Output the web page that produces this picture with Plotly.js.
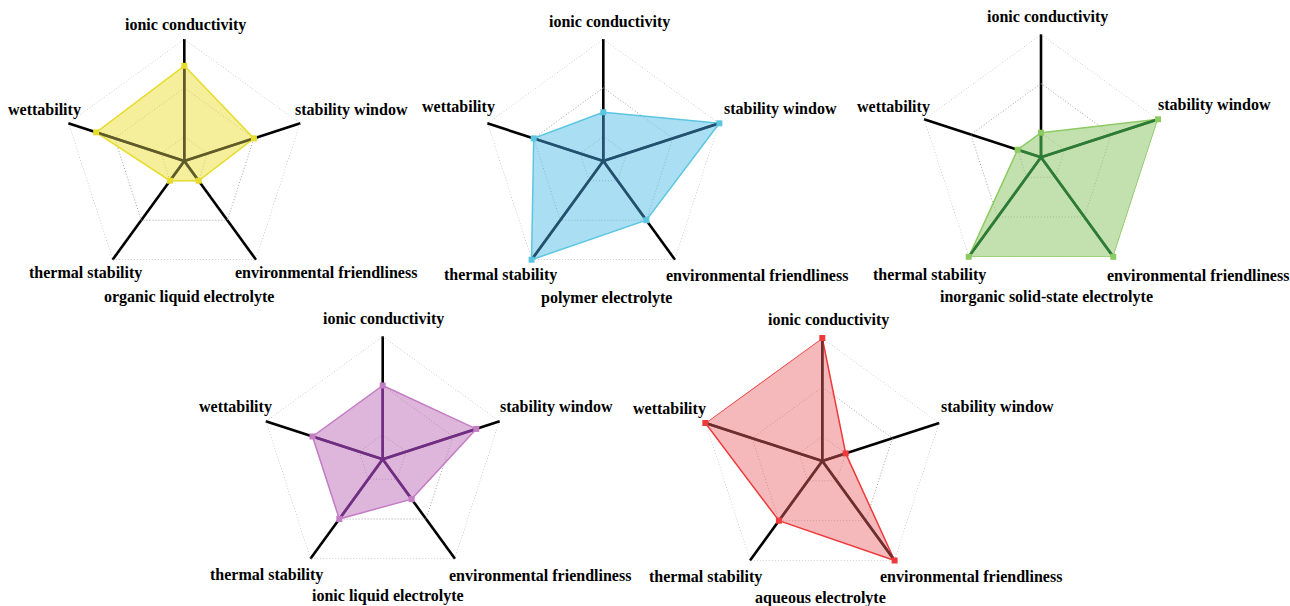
<!DOCTYPE html>
<html>
<head>
<meta charset="utf-8">
<script src="https://cdn.plot.ly/plotly-3.0.1.min.js"></script>
<style>
html,body{margin:0;padding:0;background:#fff;}
#chart{width:1290px;height:606px;}
</style>
</head>
<body>
<div id="chart"></div>
<script>
// ---- data ----
var categories = ['ionic conductivity', 'stability window', 'environmental friendliness', 'thermal stability', 'wettability'];
var chartTitles = ['organic liquid electrolyte', 'polymer electrolyte', 'inorganic solid-state electrolyte', 'ionic liquid electrolyte', 'aqueous electrolyte'];
var organicLiquid = [3.9, 3.0, 1.0, 1.0, 3.8];
var polymer = [2.0, 5.0, 3.0, 5.0, 3.0];
var inorganicSolid = [1.0, 5.0, 5.0, 5.0, 1.0];
var ionicLiquid = [3.0, 4.0, 2.0, 3.0, 3.0];
var aqueous = [5.0, 1.0, 5.0, 3.0, 5.0];
var gridValues = [1, 3, 5];
var radialMax = 5;

// ---- styles / layout (positions in pixels) ----
var W = 1290, H = 606;
var series = [organicLiquid, polymer, inorganicSolid, ionicLiquid, aqueous];
var styles = [
  {line: '#e6dc2c', fill: 'rgba(238,227,88,0.6)', spoke: '#5f5a2a'},
  {line: '#5cc6e2', fill: 'rgba(113,200,233,0.6)', spoke: '#22506e'},
  {line: '#8ccb62', fill: 'rgba(155,205,122,0.6)', spoke: '#2b7c34'},
  {line: '#c47cc4', fill: 'rgba(200,133,197,0.6)', spoke: '#712c84'},
  {line: '#f03a3a', fill: 'rgba(238,138,143,0.6)', spoke: '#6e2e2e'}
];
var centers = [
  {cx: 184.3, cy: 161, R: 122},
  {cx: 603.3, cy: 161, R: 122},
  {cx: 1041, cy: 157.3, R: 123},
  {cx: 382.7, cy: 459.3, R: 123},
  {cx: 822.3, cy: 461, R: 123}
];
// label centres: [ionic, stability, environmental, thermal, wettability, title]
var labelPos = [
  [[185.8,25],[351,110],[326,272.7],[85.5,272.7],[44.5,110],[189,296.7]],
  [[609.7,21.7],[780,109.3],[757,275],[500,275],[458,107.3],[606,297.7]],
  [[1047.5,17.3],[1214.5,105],[1197.7,275],[930,275],[893,106.7],[1046.3,296.7]],
  [[383,319],[556.3,406.7],[539.5,575.3],[266.3,575.3],[235.2,407.3],[387.8,596]],
  [[828.3,320],[997,406.7],[970.5,576.7],[705,576.7],[669.7,409.3],[820.3,597.7]]
];

var traces = [];
var layout = {
  width: W, height: H,
  margin: {l: 0, r: 0, t: 0, b: 0},
  paper_bgcolor: '#ffffff',
  plot_bgcolor: '#ffffff',
  showlegend: false,
  annotations: []
};

series.forEach(function (vals, i) {
  var sub = i === 0 ? 'polar' : 'polar' + (i + 1);
  var st = styles[i];
  var c = centers[i];
  layout[sub] = {
    domain: {
      x: [(c.cx - c.R) / W, (c.cx + c.R) / W],
      y: [(H - c.cy - c.R) / H, (H - c.cy + c.R) / H]
    },
    bgcolor: 'rgba(0,0,0,0)',
    gridshape: 'linear',
    radialaxis: {
      range: [0, radialMax],
      showgrid: false,
      showticklabels: false,
      ticks: '',
      showline: false
    },
    angularaxis: {
      type: 'category',
      categoryarray: categories,
      direction: 'clockwise',
      rotation: 90,
      showticklabels: false,
      ticks: '',
      showline: false,
      gridcolor: '#000000',
      gridwidth: 2.6
    }
  };
  // dotted pentagon grid rings at the grid values
  gridValues.forEach(function (g) {
    var gr = categories.map(function () { return g; });
    traces.push({
      type: 'scatterpolar', subplot: sub, mode: 'lines',
      r: gr.concat([g]), theta: categories.concat([categories[0]]),
      line: {color: '#a2a2a2', width: 1, dash: '1px,2px'}, hoverinfo: 'skip'
    });
  });
  var r = vals.concat([vals[0]]);
  var th = categories.concat([categories[0]]);
  traces.push({
    type: 'scatterpolar', subplot: sub, mode: 'lines',
    r: r, theta: th, fill: 'toself', fillcolor: st.fill,
    line: {color: st.line, width: 1.5}, hoverinfo: 'skip'
  });
  var sr = [], sth = [];
  vals.forEach(function (v, k) {
    sr.push(0, v, null);
    sth.push(categories[k], categories[k], categories[k]);
  });
  traces.push({
    type: 'scatterpolar', subplot: sub, mode: 'lines',
    r: sr, theta: sth, connectgaps: false,
    line: {color: st.spoke, width: 2.6}, hoverinfo: 'skip'
  });
  traces.push({
    type: 'scatterpolar', subplot: sub, mode: 'markers',
    r: vals, theta: categories,
    marker: {symbol: 'square', size: 6, color: st.line}, hoverinfo: 'skip'
  });
  var texts = categories.concat([chartTitles[i]]);
  texts.forEach(function (t, k) {
    var p = labelPos[i][k];
    layout.annotations.push({
      xref: 'paper', yref: 'paper',
      x: p[0] / W, y: 1 - p[1] / H,
      xanchor: 'center', yanchor: 'middle',
      text: '<b>' + t + '</b>', showarrow: false,
      font: {family: 'Liberation Serif', size: 16, color: '#000000'}
    });
  });
});

Plotly.newPlot('chart', traces, layout, {displayModeBar: false, staticPlot: true});
</script>
</body>
</html>
